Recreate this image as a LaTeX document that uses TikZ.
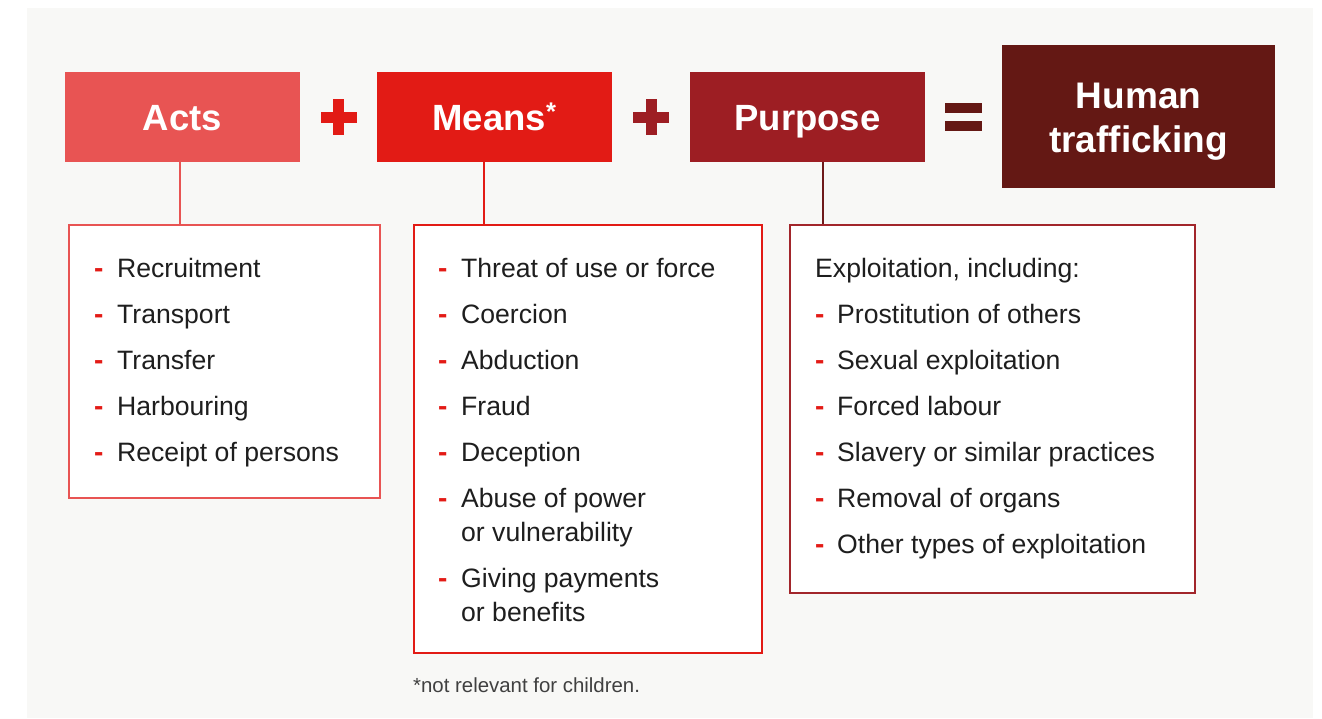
\documentclass[tikz,border=0pt]{standalone}
\usepackage{fontspec}
\setmainfont{Liberation Sans}
\definecolor{panel}{HTML}{F8F8F6}
\definecolor{actsc}{HTML}{E85453}
\definecolor{meansc}{HTML}{E21B15}
\definecolor{purpc}{HTML}{9D1E23}
\definecolor{htc}{HTML}{641814}
\definecolor{txt}{HTML}{1E1E1E}
\definecolor{dashc}{HTML}{E31B16}
\definecolor{purpline}{HTML}{6E1A1A}
\definecolor{purpborder}{HTML}{A2262B}
\begin{document}
\begin{tikzpicture}[x=1pt,y=-1pt,
  hdr/.style={inner sep=0pt, minimum width=235pt, minimum height=90pt, text=white,
    font=\fontsize{36.5}{40}\selectfont\bfseries, text height=26pt, text depth=0pt},
  listbox/.style={draw, line width=2pt, fill=white, inner sep=0pt},
  conn/.style={line width=2pt},
  item/.style={anchor=base west, inner sep=0pt, text=txt, font=\fontsize{26.6}{30}\selectfont},
  dashmark/.style={anchor=base west, inner sep=0pt, text=dashc, font=\fontsize{28}{30}\selectfont\bfseries}
]
\useasboundingbox (0,0) rectangle (1322,718);
\fill[white] (0,0) rectangle (1322,718);
\fill[panel] (27,8) rectangle (1313,718);

% header boxes
\node[hdr, fill=actsc] (acts) at (182.5,117) {Acts};
\node[hdr, fill=meansc] (means) at (494.5,117) {Means\textsuperscript{*}};
\node[hdr, fill=purpc] (purp) at (807.5,117) {Purpose};
\node[inner sep=0pt, minimum width=273pt, minimum height=143pt, fill=htc] (ht) at (1138.5,116.5) {};
\node[anchor=base, inner sep=0pt, text=white, font=\fontsize{37}{40}\selectfont\bfseries] (ht1) at (1138.5,108) {Human};
\node[anchor=base, inner sep=0pt, text=white, font=\fontsize{37}{40}\selectfont\bfseries] (ht2) at (1138.5,152) {trafficking};

% operators
\fill[meansc] (320.5,111.5) rectangle (356.5,122.5);
\fill[meansc] (333,99) rectangle (344,135);
\fill[purpc] (633,111.5) rectangle (669,122.5);
\fill[purpc] (645.5,99) rectangle (656.5,135);
\fill[htc] (945,103) rectangle (982,113);
\fill[htc] (945,120.5) rectangle (982,131);

% list boxes
\node[listbox, draw=actsc, minimum width=311pt, minimum height=273pt] (actslist) at (224.5,361.5) {};
\node[listbox, draw=meansc, minimum width=348pt, minimum height=428pt] (meanslist) at (588,439) {};
\node[listbox, draw=purpborder, minimum width=405pt, minimum height=368pt] (purplist) at (992.5,409) {};

% connectors
\coordinate (ca) at (180,0);
\coordinate (cm) at (484,0);
\coordinate (cp) at (823,0);
\draw[conn, actsc] (acts.south -| ca) -- (actslist.north -| ca);
\draw[conn, meansc] (means.south -| cm) -- (meanslist.north -| cm);
\draw[conn, purpline] (purp.south -| cp) -- (purplist.north -| cp);

% Acts list
\foreach \t [count=\i] in {Recruitment, Transport, Transfer, Harbouring, Receipt of persons}{
  \node[dashmark] (ad\i) at (94,{277+46*(\i-1)}) {-};
  \node[item] (ai\i) at (117,{277+46*(\i-1)}) {\t};
}

% Means list
\foreach \t/\y [count=\i] in {Threat of use or force/277, Coercion/323, Abduction/369, Fraud/415, Deception/461, Abuse of power/507, Giving payments/587}{
  \node[dashmark] (md\i) at (438,\y) {-};
  \node[item] (mi\i) at (461,\y) {\t};
}
\node[item] (mc1) at (461,541) {or vulnerability};
\node[item] (mc2) at (461,621) {or benefits};

% Purpose list
\node[item] (phead) at (815,277) {Exploitation, including:};
\foreach \t [count=\i] in {Prostitution of others, Sexual exploitation, Forced labour, Slavery or similar practices, Removal of organs, Other types of exploitation}{
  \node[dashmark] (pd\i) at (815,{277+46*\i}) {-};
  \node[item] (pi\i) at (837,{277+46*\i}) {\t};
}

% footnote
\node[anchor=base west, inner sep=0pt, text=txt!85, font=\fontsize{20.4}{24}\selectfont] (foot) at (413,692) {*not relevant for children.};
\end{tikzpicture}
\end{document}
